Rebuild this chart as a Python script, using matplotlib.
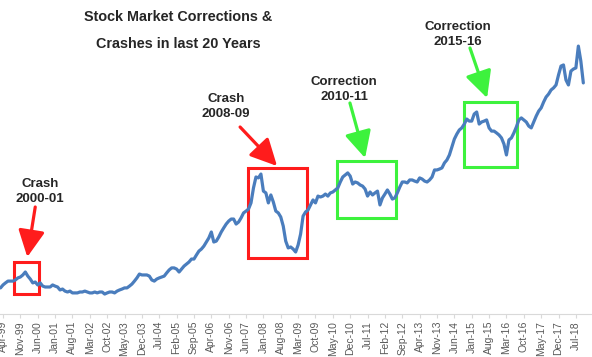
import numpy as np
import matplotlib.pyplot as plt

# monthly index level, Mar-99 .. Oct-18
nifty = [
    1060, 1190, 1280, 1360, 1360, 1360, 1410, 1500, 1540, 1630,
    1760, 1580, 1450, 1280, 1320, 1190, 1280, 1140, 1100, 1100, 1100, 1190,
    1140, 1100, 970, 1010, 920, 880, 920, 840, 840, 840, 880, 880,
    920, 880, 840, 840, 880, 840, 880, 880, 790, 840, 880, 880,
    840, 920, 970, 1010, 1060, 1060, 1140, 1230, 1360, 1500, 1670, 1630,
    1630, 1630, 1580, 1410, 1360, 1450, 1500, 1540, 1580, 1720, 1850, 1940,
    1940, 1890, 1760, 1890, 2020, 2110, 2200, 2330, 2330, 2510, 2680, 2770,
    2900, 3080, 3260, 3520, 3080, 3120, 3300, 3520, 3700, 3870, 4000, 4090,
    4090, 3870, 3960, 4140, 4360, 4440, 4530, 4800, 5460, 5940, 5900, 6070,
    5320, 5240, 4800, 5150, 4840, 4440, 4360, 4180, 3780, 3120, 2820, 2860,
    2770, 2640, 2950, 3430, 4220, 4400, 4490, 4710, 4930, 4800, 5100, 5060,
    5100, 5190, 5100, 5240, 5280, 5370, 5460, 5720, 5940, 6030, 6120, 5980,
    5630, 5720, 5680, 5590, 5540, 5410, 5100, 5280, 5150, 5240, 5320, 4710,
    5020, 5190, 5370, 5190, 4970, 5020, 5240, 5500, 5720, 5720, 5680, 5810,
    5810, 5760, 5720, 5900, 5850, 5760, 5720, 5810, 5940, 6250, 6250, 6290,
    6340, 6560, 6690, 6910, 7260, 7610, 7830, 8010, 8100, 8270, 8490, 8400,
    8400, 8710, 8800, 8270, 8360, 8400, 8450, 8100, 7960, 7960, 7880, 7790,
    7660, 7390, 6910, 7570, 7660, 7880, 8140, 8450, 8540, 8450, 8360, 8180,
    8100, 8360, 8620, 8840, 8980, 9240, 9460, 9590, 9770, 9860, 9990, 10430,
    10820, 10870, 10210, 9990, 10600, 10690, 10740, 11700, 11040, 10080,
]

tick_labels = ['Apr-99', 'Nov-99', 'Jun-00', 'Jan-01', 'Aug-01', 'Mar-02', 'Oct-02',
               'May-03', 'Dec-03', 'Jul-04', 'Feb-05', 'Sep-05', 'Apr-06', 'Nov-06',
               'Jun-07', 'Jan-08', 'Aug-08', 'Mar-09', 'Oct-09', 'May-10', 'Dec-10',
               'Jul-11', 'Feb-12', 'Sep-12', 'Apr-13', 'Nov-13', 'Jun-14', 'Jan-15',
               'Aug-15', 'Mar-16', 'Oct-16', 'May-17', 'Dec-17', 'Jul-18']

# label, colour, box (x0, x1, y0, y1), text pos, arrow start, arrow tip
notes = [
    ('Crash\n2000-01', '#ff1c1c', (4.4, 14.5, 790, 2200), (14.9, 5300), (13.0, 4620), (9.8, 2420)),
    ('Crash\n2008-09', '#ff1c1c', (98.8, 122.6, 2376, 6336), (89.9, 9050), (95.6, 8140), (110.5, 6424)),
    ('Correction\n2010-11', '#3df23d', (134.7, 158.5, 4136, 6644), (137.5, 9800), (139.9, 9196), (146.0, 6776)),
    ('Correction\n2015-16', '#3df23d', (185.9, 207.3, 6380, 9240), (183.5, 12220), (188.3, 11616), (195.2, 9416)),
]

x = np.arange(len(nifty)) - 1
tick_pos = np.arange(len(tick_labels)) * 7

plt.rcParams['font.family'] = ['Liberation Sans', 'DejaVu Sans']
fig = plt.figure(figsize=(5.92, 3.57), dpi=100)
ax = fig.add_axes([0, 43 / 357, 1, 314 / 357])
ax.plot(x, nifty, color='#4a7dbd', lw=2.3, solid_joinstyle='round', solid_capstyle='round')
ax.set_xlim(-1.21, 237.5)
ax.set_ylim(-88, 13728)

for s in ['top', 'left', 'right']:
    ax.spines[s].set_visible(False)
ax.spines['bottom'].set_color('#d9d9d9')
ax.set_yticks([])
ax.set_xticks(tick_pos)
ax.set_xticklabels(tick_labels, rotation=90, fontsize=7.5, color='#595959')
ax.tick_params(axis='x', length=3, color='#d9d9d9', pad=2)

ax.text(70.6, 12380, 'Stock Market Corrections &\nCrashes in last 20 Years', ha='center', va='center',
        fontsize=10.4, fontweight='bold', color='#262626', linespacing=2.15)

for label, col, box, tpos, a0, a1 in notes:
    ax.add_patch(plt.Rectangle((box[0], box[2]), box[1] - box[0], box[3] - box[2],
                               fill=False, ec=col, lw=2.2, clip_on=False))
    ax.text(tpos[0], tpos[1], label, ha='center', va='center', fontsize=9.5,
            fontweight='bold', color='#262626', linespacing=1.35)
    ax.annotate('', xy=a1, xytext=a0,
                arrowprops=dict(arrowstyle='-|>,head_width=0.45,head_length=0.9', color=col,
                                lw=2.3, mutation_scale=18, shrinkA=0, shrinkB=0))

plt.savefig('out.png', dpi=100)
